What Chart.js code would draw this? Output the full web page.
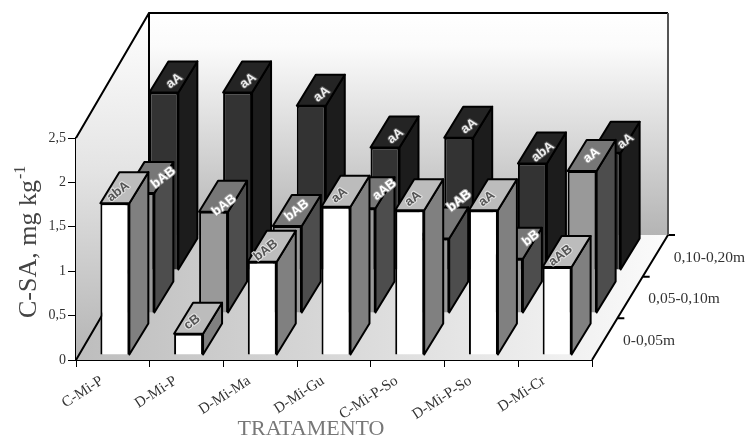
<!DOCTYPE html>
<html>
<head>
<meta charset="utf-8">
<style>html,body{margin:0;padding:0;background:#fff}canvas{display:block;filter:blur(0.45px)}</style>
<script src="https://cdn.jsdelivr.net/npm/chart.js@4"></script>
</head>
<body>
<canvas id="c" width="746" height="438"></canvas>
<script>
const categories = ['C-Mi-P','D-Mi-P','D-Mi-Ma','D-Mi-Gu','C-Mi-P-So','D-Mi-P-So','D-Mi-Cr'];
const depthLabels = ['0-0,05m','0,05-0,10m','0,10-0,20m'];
const yTicks = [0,0.5,1,1.5,2,2.5];
const valuesFront = [1.71,0.24,1.05,1.67,1.63,1.63,0.99];
const valuesMiddle = [1.35,1.14,0.98,1.18,0.84,0.61,1.60];
const valuesBack = [2.00,2.00,1.85,1.38,1.49,1.20,1.32];
const lettersFront = ['abA','cB','bAB','aA','aA','aA','aAB'];
const lettersMiddle = ['bAB','bAB','bAB','aAB','bAB','bB','aA'];
const lettersBack = ['aA','aA','aA','aA','aA','abA','aA'];

const DEPTH = {left:73, right:76, y:-125};
const BAR_DEPTH = {x:19, y:-31};
// Labels the original moved aside so they stay readable: [row, category, dx, dy]
const labelShifts = [[1,0,14,0],[1,1,1,9],[1,3,14,-3],[1,4,15,-22],[1,5,13,-5],[2,6,9,0]];
const rows = [
  {dx:2,  dy:-5,  side:'#808080', top:'#bcbcbc', text:'#555', halo:'#e4e4e4', ldx:-6, ldy:4, letters:lettersFront},
  {dx:27, dy:-47, side:'#4d4d4d', top:'#777777', text:'#fff', halo:'#999', ldx:0, ldy:0, letters:lettersMiddle},
  {dx:51, dy:-90, side:'#1c1c1c', top:'#242424', text:'#eee', halo:'#555', ldx:1, ldy:4, letters:lettersBack}
];
const SERIF = '"Liberation Serif"';

function poly(ctx, pts, fill, stroke, lw){
  ctx.beginPath();
  pts.forEach((p,i)=> i?ctx.lineTo(p[0],p[1]):ctx.moveTo(p[0],p[1]));
  ctx.closePath();
  if(fill){ctx.fillStyle=fill;ctx.fill();}
  if(stroke){ctx.strokeStyle=stroke;ctx.lineWidth=lw||1.5;ctx.lineJoin='round';ctx.stroke();}
}

const box3d = {
  id:'box3d',
  beforeDatasetsDraw(chart){
    const {ctx, scales:{x,y}} = chart;
    const L=x.left,R=x.right,T=y.top,B=y.bottom,dl=DEPTH.left,dr=DEPTH.right,dy=DEPTH.y;
    ctx.save();
    let g=ctx.createLinearGradient(0,T+dy,0,B+dy);
    g.addColorStop(0,'#ffffff');g.addColorStop(0.15,'#fbfbfb');g.addColorStop(1,'#b4b4b4');
    poly(ctx,[[L+dl,T+dy],[R+dr,T+dy],[R+dr,B+dy],[L+dl,B+dy]],g);
    g=ctx.createLinearGradient(0,T+dy,0,B);
    g.addColorStop(0,'#ffffff');g.addColorStop(0.45,'#e4e4e4');g.addColorStop(1,'#b4b4b4');
    poly(ctx,[[L,T],[L+dl,T+dy],[L+dl,B+dy],[L,B]],g);
    g=ctx.createLinearGradient(L,0,R+dr,0);
    g.addColorStop(0,'#bdbdbd');g.addColorStop(1,'#fbfbfb');
    poly(ctx,[[L,B],[R,B],[R+dr,B+dy],[L+dl,B+dy]],g);
    ctx.lineWidth=2;ctx.strokeStyle='#000';
    ctx.beginPath();
    ctx.moveTo(L,T);ctx.lineTo(L+dl,T+dy);ctx.lineTo(R+dr,T+dy);
    ctx.moveTo(L+dl,T+dy);ctx.lineTo(L+dl,B+dy);
    ctx.moveTo(L,B);ctx.lineTo(L+dl,B+dy);
    ctx.moveTo(R,B);ctx.lineTo(R+dr,B+dy);
    for(let i=0;i<depthLabels.length;i++){
      const f=(i+1)/3, px=R+dr*f, py=B+dy*f;
      ctx.moveTo(px,py);ctx.lineTo(px+7,py);
    }
    ctx.stroke();
    ctx.strokeStyle='#555';ctx.beginPath();
    ctx.moveTo(R+dr,T+dy);ctx.lineTo(R+dr,B+dy);ctx.stroke();
    ctx.fillStyle='#333';ctx.font='15.5px '+SERIF;ctx.textAlign='left';ctx.textBaseline='middle';
    depthLabels.forEach((t,i)=>{
      const f=i/3, px=R+dr*f, py=B+dy*f;
      ctx.fillText(t,px+31,py-19);
    });
    ctx.restore();
  },
  beforeDatasetDraw(chart,args){
    const r=rows[args.index];
    chart.ctx.save();
    chart.ctx.translate(r.dx,r.dy);
  },
  afterDatasetDraw(chart,args){
    const {ctx}=chart, r=rows[args.index], bx=BAR_DEPTH.x, by=BAR_DEPTH.y;
    args.meta.data.forEach((el,i)=>{
      const p=el.getProps(['x','y','base','width']);
      const l=p.x-p.width/2, rt=p.x+p.width/2, t=p.y, b=p.base;
      poly(ctx,[[rt,t],[rt+bx,t+by],[rt+bx,b+by],[rt,b]],r.side,'#000',2);
      poly(ctx,[[l,t],[l+bx,t+by],[rt+bx,t+by],[rt,t]],r.top,'#000',2);
      const s=labelShifts.find(a=>a[0]===args.index&&a[1]===i)||[0,0,0,0];
      ctx.save();
      ctx.translate((l+rt)/2+bx/2+r.ldx+s[2],t+by/2+r.ldy+s[3]);
      ctx.rotate(-38*Math.PI/180);
      ctx.font='bold 13px "Liberation Sans"';
      ctx.textAlign='center';ctx.textBaseline='middle';
      ctx.lineWidth=2;ctx.strokeStyle=r.halo;ctx.strokeText(r.letters[i],0,0);
      ctx.fillStyle=r.text;ctx.fillText(r.letters[i],0,0);
      ctx.restore();
    });
    ctx.restore();
  },
  afterDraw(chart){
    const {ctx}=chart;
    ctx.save();
    ctx.font='22px '+SERIF;ctx.textAlign='center';ctx.textBaseline='middle';
    ctx.fillStyle='#777';
    ctx.fillText('TRATAMENTO',311,429);
    ctx.translate(29,318);
    ctx.rotate(-Math.PI/2);
    ctx.fillStyle='#444';
    ctx.textAlign='left';ctx.textBaseline='middle';
    ctx.font='26px '+SERIF;
    const t='C-SA, mg kg';
    ctx.fillText(t,0,0);
    const w=ctx.measureText(t).width;
    ctx.font='16px '+SERIF;
    ctx.fillText('-1',w+1,-8);
    ctx.restore();
  }
};

function ds(label,data,fill,idx){
  return {label,data,backgroundColor:fill,borderColor:'#000',borderWidth:2,
    grouped:false,clip:false,order:idx,barPercentage:0.393,categoryPercentage:1};
}
new Chart(document.getElementById('c'),{
  type:'bar',
  plugins:[box3d],
  data:{labels:categories,datasets:[
    ds(depthLabels[0],valuesFront,'#ffffff',0),
    ds(depthLabels[1],valuesMiddle,'#999999',1),
    ds(depthLabels[2],valuesBack,'#333333',2)
  ]},
  options:{
    responsive:false,animation:false,devicePixelRatio:1,
    layout:{padding:{left:0,top:138,right:154,bottom:0}},
    plugins:{legend:{display:false},tooltip:{enabled:false},title:{display:false}},
    scales:{
      x:{
        afterFit(s){s.height=78;},
        border:{color:'#000',width:2},
        grid:{drawOnChartArea:false,drawTicks:true,tickLength:7,color:'#000',offset:true},
        ticks:{color:'#333',font:{family:'Liberation Serif',size:15},minRotation:33,maxRotation:33,
          padding:5,labelOffset:-11,autoSkip:false}
      },
      y:{
        min:0,max:2.5,
        afterFit(s){s.width=76;},
        afterBuildTicks(s){s.ticks=yTicks.map(v=>({value:v}));},
        border:{color:'#000',width:2},
        grid:{drawOnChartArea:false,drawTicks:true,tickLength:8,color:'#000'},
        ticks:{color:'#333',font:{family:'Liberation Serif',size:14},padding:2,
          callback:v=>String(v).replace('.',',')}
      }
    }
  }
});
</script>
</body>
</html>
